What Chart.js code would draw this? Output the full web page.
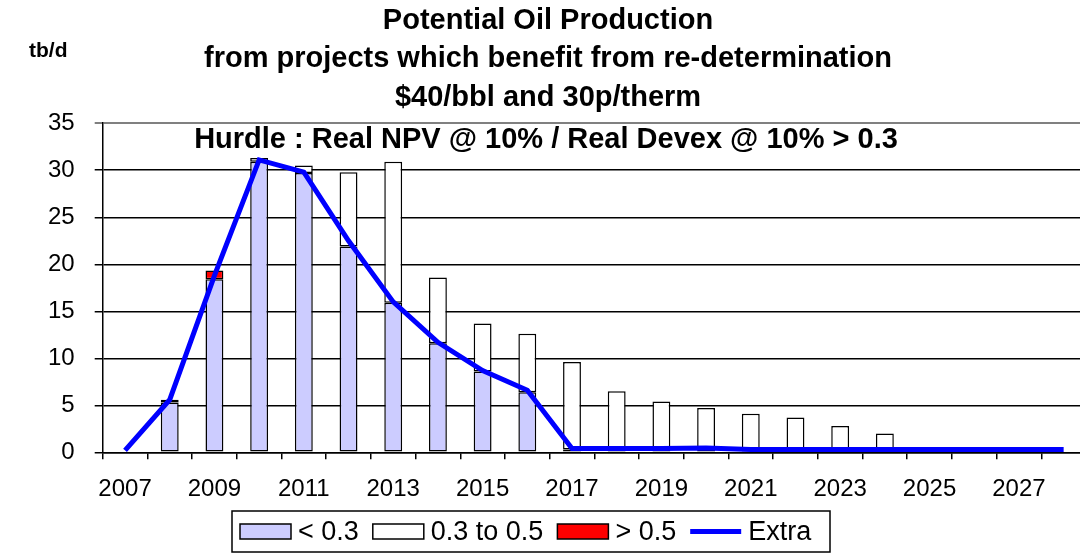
<!DOCTYPE html>
<html>
<head>
<meta charset="utf-8">
<script src="https://cdn.jsdelivr.net/npm/chart.js@4.4.1/dist/chart.umd.min.js"></script>
<style>
  html, body { margin: 0; padding: 0; background: #fff; overflow: hidden; }
  #wrap { width: 1100px; height: 555px; }
</style>
</head>
<body>
<div id="wrap"><canvas id="myChart" width="1100" height="555"></canvas></div>
<script>
// values (tb/d)
const years = ['2007', '2008', '2009', '2010', '2011', '2012', '2013', '2014', '2015', '2016', '2017',
               '2018', '2019', '2020', '2021', '2022', '2023', '2024', '2025', '2026', '2027', '2028'];
const tickYears = ['2007', '2009', '2011', '2013', '2015', '2017', '2019', '2021', '2023', '2025', '2027'];

const below03 = [0, 5.3, 18.4, 30.9, 29.7, 21.9, 15.9, 11.6, 8.6, 6.4, 0.3,
                 0, 0, 0, 0, 0, 0, 0, 0, 0, 0, 0];
const mid0305 = [0, 0.3, 0, 0.4, 0.8, 7.9, 15.0, 7.0, 5.1, 6.2, 9.3,
                 6.5, 5.4, 4.7, 4.1, 3.7, 2.8, 2.0, 0, 0, 0, 0];
const above05 = [0, 0, 0.95, 0, 0, 0, 0, 0, 0, 0, 0,
                 0, 0, 0, 0, 0, 0, 0, 0, 0, 0, 0];
const extra = [0.2, 5.6, 18.8, 31.1, 29.8, 22.5, 16.0, 11.7, 8.7, 6.6, 0.4,
               0.4, 0.4, 0.45, 0.3, 0.3, 0.3, 0.3, 0.3, 0.3, 0.3, 0.3];

const titleLines = ['Potential Oil Production',
                    'from projects which benefit from re-determination',
                    '$40/bbl and 30p/therm'];
const hurdleText = 'Hurdle : Real NPV @ 10% / Real Devex @ 10% > 0.3';
const unitText = 'tb/d';

const FONT = "'Liberation Sans', Arial, Helvetica, sans-serif";
Chart.defaults.font.family = FONT;
Chart.defaults.color = '#000';

function barSet(label, values, colour) {
    return {
        label: label,
        data: values,
        backgroundColor: colour,
        borderColor: '#000',
        borderWidth: 1.5,
        borderSkipped: false,
        categoryPercentage: 0.5,
        barPercentage: 0.8,
        stack: 'bars',
        order: 1
    };
}

// extra text + boxed legend, drawn after the chart
const extrasPlugin = {
    id: 'extras',
    afterDraw(chart) {
        const ctx = chart.ctx;
        ctx.save();
        ctx.fillStyle = '#000';
        ctx.textBaseline = 'alphabetic';

        ctx.font = 'bold 21px ' + FONT;
        ctx.textAlign = 'left';
        ctx.fillText(unitText, 29, 57);

        ctx.font = 'bold 29px ' + FONT;
        ctx.textAlign = 'center';
        ctx.fillText(hurdleText, 546, 148);

        // legend
        const left = 232, top = 511, width = 598, height = 41;
        const sw = 51, sh = 15, gapText = 7, gapItem = 14;
        const midY = top + height / 2;
        ctx.font = '27px ' + FONT;
        ctx.textAlign = 'left';
        ctx.textBaseline = 'middle';
        let x = left + 8;
        chart.data.datasets.forEach(ds => {
            if (ds.type === 'line') {
                ctx.strokeStyle = ds.borderColor;
                ctx.lineWidth = ds.borderWidth;
                ctx.beginPath();
                ctx.moveTo(x, midY);
                ctx.lineTo(x + sw, midY);
                ctx.stroke();
            } else {
                ctx.fillStyle = ds.backgroundColor;
                ctx.fillRect(x, midY - sh / 2, sw, sh);
                ctx.strokeStyle = '#000';
                ctx.lineWidth = 1.5;
                ctx.strokeRect(x, midY - sh / 2, sw, sh);
            }
            x += sw + gapText;
            ctx.fillStyle = '#000';
            ctx.fillText(ds.label, x, midY + 1);
            x += ctx.measureText(ds.label).width + gapItem;
        });
        ctx.strokeStyle = '#000';
        ctx.lineWidth = 1.5;
        ctx.strokeRect(left, top, Math.max(width, x - gapItem + 8 - left), height);
        ctx.restore();
    }
};

const data = {
    labels: years,
    datasets: [
        barSet('< 0.3', below03, '#CCCCFF'),
        barSet('0.3 to 0.5', mid0305, '#FFFFFF'),
        barSet('> 0.5', above05, '#FF0000'),
        {
            type: 'line',
            label: 'Extra',
            data: extra,
            borderColor: '#0000FF',
            backgroundColor: '#0000FF',
            borderWidth: 5,
            pointRadius: 0,
            tension: 0,
            fill: false,
            stack: 'extra',
            order: 0
        }
    ]
};

const options = {
    responsive: false,
    animation: false,
    layout: { padding: { left: 10, right: 14, top: 0, bottom: 47.7 } },
    plugins: {
        title: {
            display: true,
            text: titleLines,
            color: '#000',
            font: { size: 29, weight: 'bold', lineHeight: 1.32 },
            padding: { top: 1.9, bottom: 6.5 }
        },
        legend: { display: false },
        tooltip: { enabled: false }
    },
    scales: {
        x: {
            stacked: true,
            afterFit: s => { s.height = 55; },
            grid: { offset: true, drawOnChartArea: false, tickLength: 7, color: '#000', lineWidth: 1.5 },
            border: { color: '#000', width: 1.5 },
            ticks: {
                autoSkip: false,
                maxRotation: 0,
                padding: 16,
                font: { size: 24 },
                color: '#000',
                callback: (v, i) => tickYears.includes(years[i]) ? years[i] : ''
            }
        },
        y: {
            stacked: true,
            min: 0,
            max: 35,
            afterFit: s => { s.width = 92.7; },
            grid: {
                color: c => c.tick && c.tick.value === 35 ? '#808080' : '#000',
                lineWidth: c => c.tick && c.tick.value === 35 ? 2 : 1.5,
                tickLength: 8
            },
            border: { color: '#000', width: 1.5 },
            ticks: { stepSize: 5, padding: 20, font: { size: 24 }, color: '#000' }
        }
    }
};

const myChart = new Chart(document.getElementById('myChart'), {
    type: 'bar',
    data: data,
    options: options,
    plugins: [extrasPlugin]
});
</script>
</body>
</html>
